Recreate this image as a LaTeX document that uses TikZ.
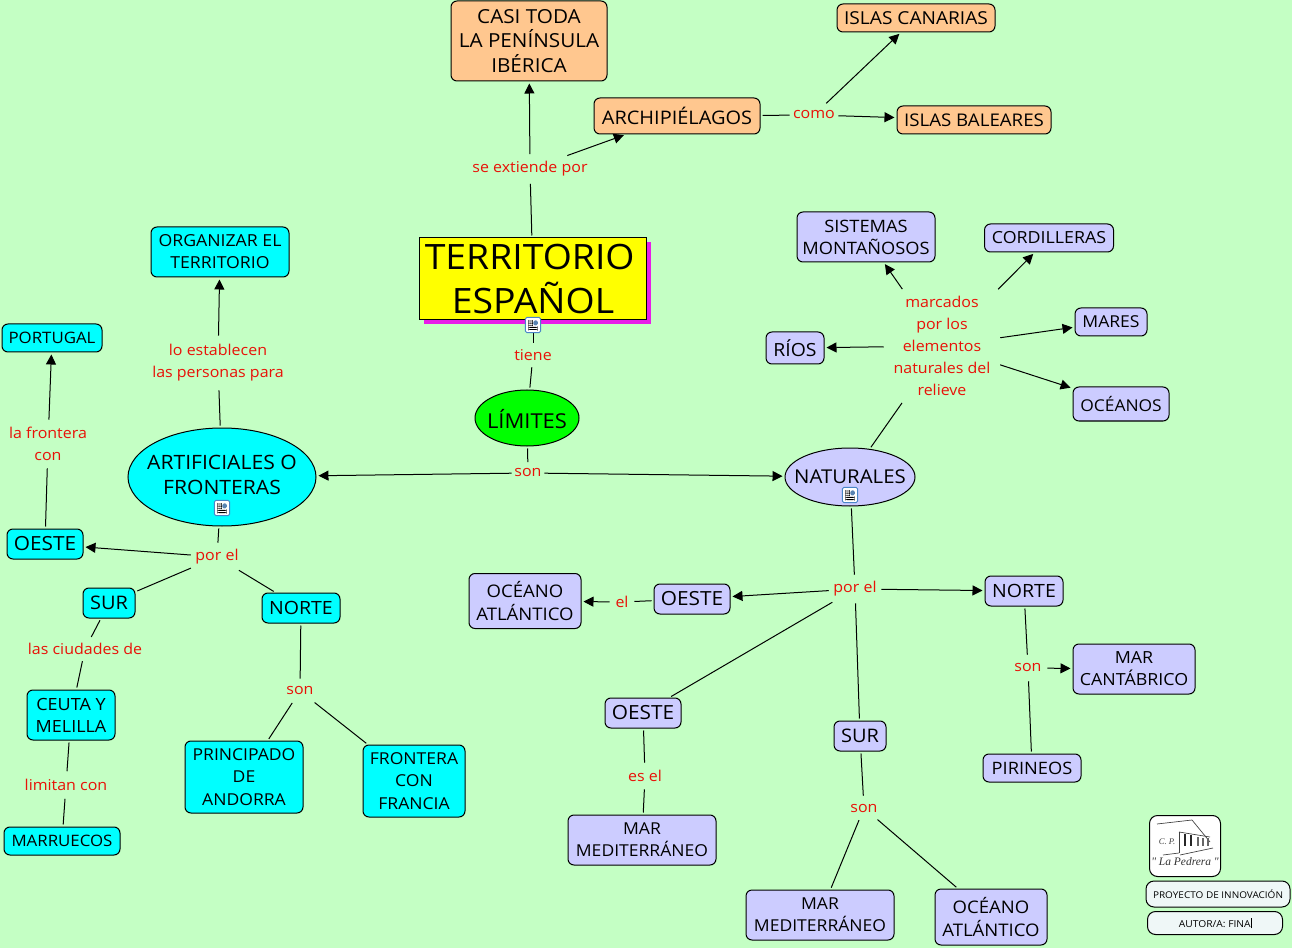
\documentclass[tikz,border=0pt]{standalone}
\usepackage{fontspec}
\setmainfont[FakeStretch=1.07]{Open Sans}
\newfontfamily\logofont[ItalicFont={Liberation Serif Italic}]{Liberation Serif}
\usetikzlibrary{shapes.geometric,arrows.meta,shadows}
\definecolor{bgc}{HTML}{C4FFC4}
\definecolor{peach}{HTML}{FFC78F}
\definecolor{lav}{HTML}{CCCCFF}
\definecolor{cya}{HTML}{00FFFF}
\definecolor{lblc}{HTML}{E81208}
\definecolor{mag}{HTML}{E81CE8}
\definecolor{yel}{HTML}{FFFF00}
\definecolor{grn}{HTML}{00FF00}
\definecolor{pale}{HTML}{EFF7F7}
\definecolor{iconb}{HTML}{4A86C8}
\tikzset{
  boxn/.style n args={3}{draw=black,line width=0.75pt,rounded corners=4.5pt,fill=#3,inner sep=0pt,align=center,
     minimum width=#1*0.75pt,minimum height=#2*0.75pt,text=black,font=\fontsize{14.5}{18.4}\selectfont},
  elln/.style n args={3}{ellipse,draw=black,line width=0.75pt,fill=#3,inner sep=0pt,
     minimum width=#1*0.75pt,minimum height=#2*0.75pt},
  lbl/.style 2 args={inner sep=0pt,align=center,text=lblc,minimum width=#1*0.75pt,minimum height=#2*0.75pt,
     font=\fontsize{11.2}{16.6}\selectfont},
  ln/.style={line width=0.75pt,draw=black,shorten >=1.5pt,shorten <=1.5pt},
  ar/.style={ln,-{Triangle[length=7.5pt,width=7.5pt]}},
  doc/.style={draw=iconb,line width=0.7pt,rounded corners=1.2pt,fill=white,minimum size=11.5pt,inner sep=0pt,
     path picture={
       \fill[black] (path picture bounding box.south west)++(2.2pt,2pt) rectangle ++(7pt,0.7pt);
       \fill[black] (path picture bounding box.south west)++(2.2pt,3.6pt) rectangle ++(7pt,0.7pt);
       \fill[black] (path picture bounding box.south west)++(2.2pt,5.2pt) rectangle ++(3.5pt,0.7pt);
       \fill[black] (path picture bounding box.south west)++(2.2pt,6.8pt) rectangle ++(3.5pt,0.7pt);
       \fill[black] (path picture bounding box.south west)++(2.2pt,8.4pt) rectangle ++(3.5pt,0.7pt);
       \fill[iconb!70!gray] (path picture bounding box.south west)++(6pt,5.4pt) rectangle ++(3.4pt,3.8pt);
     }},
  small/.style={font=\fontsize{#1}{16.6}\selectfont}
}
\begin{document}
\begin{tikzpicture}[x=0.75pt,y=-0.75pt]
\useasboundingbox[fill=bgc] (0,0) rectangle (1292,948);
% concepts
\node[boxn={156}{80}{peach}] (casi) at (529,41) {CASI TODA\\LA PENÍNSULA\\IBÉRICA};
\node[boxn={158}{28}{peach},small=13.4] (canarias) at (916,18) {ISLAS CANARIAS};
\node[boxn={154}{28}{peach},small=13.1] (baleares) at (974,120) {ISLAS BALEARES};
\node[boxn={166}{36}{peach},small=14] (arch) at (677,116) {ARCHIPIÉLAGOS};
\node[draw=black,line width=0.75pt,fill=yel,inner sep=0pt,align=center,minimum width=227*0.75pt,minimum height=82*0.75pt,
  drop shadow={shadow xshift=3pt,shadow yshift=-3pt,fill=mag,opacity=1},
  font=\fontsize{26.2}{33}\selectfont] (title) at (533,279) {TERRITORIO\hspace*{5pt}\\ESPAÑOL};
\node[boxn={138}{50}{cya},small=12.4] (organizar) at (220,252) {ORGANIZAR EL\\TERRITORIO};
\node[boxn={100}{28}{cya},small=11.8] (portugal) at (52,338) {PORTUGAL};
\node[boxn={138}{50}{lav},small=12.8] (sistemas) at (866,237) {SISTEMAS\\MONTAÑOSOS};
\node[boxn={129}{28}{lav},small=12.5] (cordilleras) at (1049,238) {CORDILLERAS};
\node[boxn={72}{28}{lav},small=12.3] (mares) at (1111,322) {MARES};
\node[boxn={58}{32}{lav},small=13.6] (rios) at (795,348) {RÍOS};
\node[boxn={96}{34}{lav},small=12.2] (oceanos) at (1121,404) {OCÉANOS};
\node[elln={104}{56}{grn},label={[align=center,yshift=-1pt,font=\fontsize{15.4}{16.5}\selectfont]center:LÍMITES}] (limites) at (527,418) {};
\node[elln={188}{98}{cya},label={[align=center,yshift=1.2pt,font=\fontsize{14.8}{18.7}\selectfont]center:ARTIFICIALES O\\FRONTERAS}] (artif) at (222,477) {};
\node[elln={130}{58}{lav},label={[align=center,yshift=0.5pt,font=\fontsize{14.3}{16.5}\selectfont]center:NATURALES}] (natur) at (850,477) {};
\node[boxn={76}{30}{cya},small=14.6] (oestea) at (45,544) {OESTE};
\node[boxn={52}{30}{cya},small=14] (sura) at (109,603) {SUR};
\node[boxn={78}{30}{cya},small=13.7] (nortea) at (301,608) {NORTE};
\node[boxn={88}{50}{cya},small=12.6] (ceuta) at (71,715) {CEUTA Y\\MELILLA};
\node[boxn={116}{28}{cya},small=11.8] (marruecos) at (62,841) {MARRUECOS};
\node[boxn={118}{72}{cya},small=12.3] (andorra) at (244,777) {PRINCIPADO\\DE\\ANDORRA};
\node[boxn={102}{72}{cya},small=12.3] (francia) at (414,781) {FRONTERA\\CON\\FRANCIA};
\node[boxn={112}{55}{lav},small=13] (oceanoa) at (525,601) {OCÉANO\\ATLÁNTICO};
\node[boxn={76}{30}{lav},small=14.6] (oesteb) at (692,599) {OESTE};
\node[boxn={78}{30}{lav},small=13.7] (norteb) at (1024,591) {NORTE};
\node[boxn={122}{50}{lav},small=12.5] (cantabrico) at (1134,669) {MAR\\CANTÁBRICO};
\node[boxn={98}{28}{lav},small=12.8] (pirineos) at (1032,768) {PIRINEOS};
\node[boxn={76}{30}{lav},small=14.6] (oestec) at (643,713) {OESTE};
\node[boxn={52}{30}{lav},small=14] (surb) at (860,736) {SUR};
\node[boxn={148}{50}{lav},small=12.3] (medi) at (642,840) {MAR\\MEDITERRÁNEO};
\node[boxn={148}{50}{lav},small=12.3] (medib) at (820,915) {MAR\\MEDITERRÁNEO};
\node[boxn={112}{56}{lav},small=13] (oceanob) at (991,917) {OCÉANO\\ATLÁNTICO};
% linking phrases
\node[lbl={122}{25}] (lext) at (530,169) {se extiende por};
\node[lbl={44}{20}] (lcomo) at (814,115) {como};
\node[lbl={40}{20}] (ltiene) at (533,355) {tiene};
\node[lbl={28}{17}] (lson) at (528,473) {son};
\node[lbl={134}{50}] (lest) at (218,363) {lo establecen\\las personas para};
\node[lbl={88}{44}] (lfront) at (48,444) {la frontera\\con};
\node[lbl={48}{24}] (lpora) at (217,557) {por el};
\node[lbl={116}{20}] (lciud) at (85,649) {las ciudades de};
\node[lbl={80}{23}] (llim) at (66,785) {limitan con};
\node[lbl={28}{20}] (lsona) at (300,691) {son};
\node[lbl={112}{110}] (lmarc) at (942,346) {marcados\\por los\\elementos\\naturales del\\relieve};
\node[lbl={20}{18}] (lel) at (622,602) {el};
\node[lbl={48}{24}] (lporb) at (855,589) {por el};
\node[lbl={36}{22}] (lesel) at (645,776) {es el};
\node[lbl={26}{20}] (lsonb) at (864,808) {son};
\node[lbl={34}{22}] (lsonc) at (1028,668) {son};
% connectors
\draw[ln] (title) -- (lext);
\draw[ar] (lext) -- (casi);
\draw[ar] (lext) -- (arch);
\draw[ln] (arch) -- (lcomo);
\draw[ar] (lcomo) -- (canarias);
\draw[ar] (lcomo) -- (baleares);
\draw[ln] (title) -- (ltiene);
\draw[ln] (ltiene) -- (limites);
\draw[ln] (limites) -- (lson);
\draw[ar] (lson) -- (artif);
\draw[ar] (lson) -- (natur);
\draw[ln] (natur) -- (lmarc);
\draw[ar] (lmarc) -- (sistemas);
\draw[ar] (lmarc) -- (cordilleras);
\draw[ar] (lmarc) -- (mares);
\draw[ar] (lmarc) -- (oceanos);
\draw[ar] (lmarc) -- (rios);
\draw[ln] (artif) -- (lest);
\draw[ar] (lest) -- (organizar);
\draw[ln] (artif) -- (lpora);
\draw[ar] (lpora) -- (oestea);
\draw[ln] (lpora) -- (sura);
\draw[ln] (lpora) -- (nortea);
\draw[ln] (oestea) -- (lfront);
\draw[ar] (lfront) -- (portugal);
\draw[ln] (sura) -- (lciud);
\draw[ln] (lciud) -- (ceuta);
\draw[ln] (ceuta) -- (llim);
\draw[ln] (llim) -- (marruecos);
\draw[ln] (nortea) -- (lsona);
\draw[ln] (lsona) -- (andorra);
\draw[ln] (lsona) -- (francia);
\draw[ln] (natur) -- (lporb);
\draw[ar] (lporb) -- (oesteb);
\draw[ar] (lporb) -- (norteb);
\draw[ln] (lporb) -- (oestec);
\draw[ln] (lporb) -- (surb);
\draw[ln] (oesteb) -- (lel);
\draw[ar] (lel) -- (oceanoa);
\draw[ln] (oestec) -- (lesel);
\draw[ln] (lesel) -- (medi);
\draw[ln] (surb) -- (lsonb);
\draw[ln] (lsonb) -- (medib);
\draw[ln] (lsonb) -- (oceanob);
\draw[ln] (norteb) -- (lsonc);
\draw[ar] (lsonc) -- (cantabrico);
\draw[ln] (lsonc) -- (pirineos);
% icons
\node[doc] (icon1) at (533,325) {};
\node[doc] (icon2) at (222,508) {};
\node[doc] (icon3) at (850,495) {};
% logo and credits
\node[draw=black,line width=0.75pt,rounded corners=6pt,fill=white,minimum width=71*0.75pt,minimum height=61*0.75pt,inner sep=0pt] (logo) at (1185,846) {};
\draw[black!75,line width=0.5pt] (1157,824) -- (1192,820) -- (1210,842);
\draw[black!75,line width=0.5pt] (1179,832) -- (1179,853);
\draw[black!75,line width=0.5pt] (1179,832) -- (1210,837);
\draw[black!75,line width=0.5pt] (1180,855) -- (1213,848);
\draw[black!75,line width=0.5pt] (1163,855) -- (1179,853);
\draw[black!85,line width=1.4pt] (1185,834) -- (1185,846) (1191,835) -- (1191,846);
\draw[black!60,line width=1.5pt] (1198,837) -- (1198,846) (1203,838) -- (1203,846) (1208,838) -- (1208,846);
\node[inner sep=0pt,font=\logofont\itshape\fontsize{6.5}{8}\selectfont,text=black!75] (cp) at (1167,842) {C. P.};
\node[inner sep=0pt,font=\logofont\itshape\fontsize{8.6}{10}\selectfont,text=black!80] (pedrera) at (1185,862) {" La Pedrera "};
\node[draw=black,line width=0.75pt,rounded corners=6pt,fill=pale,minimum width=144*0.75pt,minimum height=26*0.75pt,inner sep=0pt,font=\fontsize{7}{9}\selectfont] (proy) at (1218,894) {PROYECTO DE INNOVACIÓN};
\node[draw=black,line width=0.75pt,rounded corners=6pt,fill=pale,minimum width=135*0.75pt,minimum height=23*0.75pt,inner sep=0pt,font=\fontsize{7.2}{9}\selectfont] (autor) at (1215,923) {AUTOR/A: FINA\rule[-1pt]{0.4pt}{8pt}};
\end{tikzpicture}
\end{document}
